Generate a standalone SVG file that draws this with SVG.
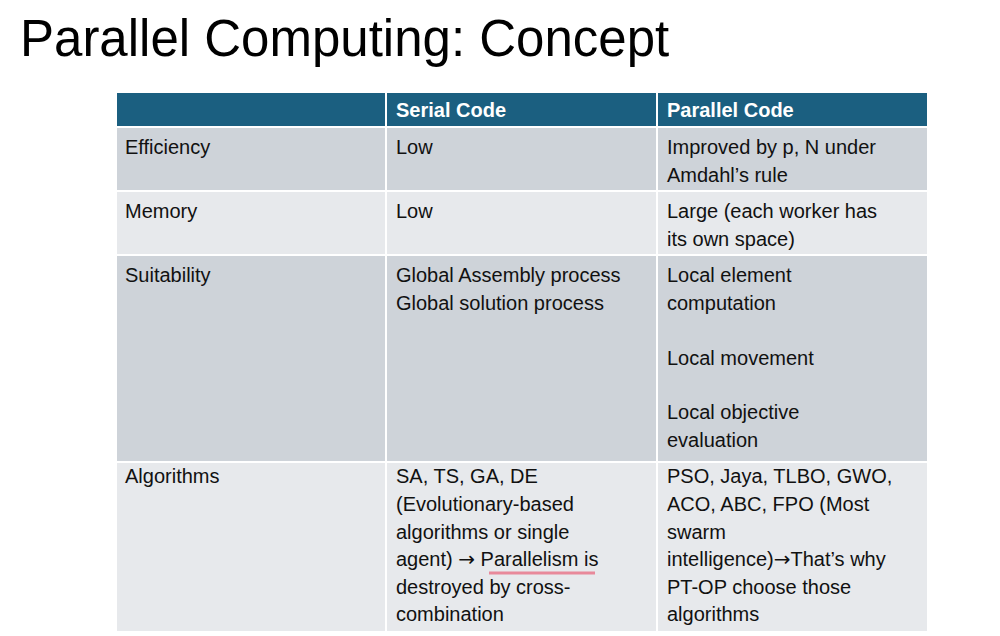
<svg xmlns="http://www.w3.org/2000/svg" width="1000" height="636" viewBox="0 0 1000 636">
<style>
text{font-family:"Liberation Sans",Arial,sans-serif;font-size:20px;fill:#111}
.h{fill:#fff;font-weight:bold}
.t{font-size:51px;fill:#000}
.a{font-family:"DejaVu Sans",sans-serif;font-size:20px}
.d{fill:#ced3d9}.l{fill:#e7e9ec}
</style>
<rect width="1000" height="636" fill="#fff"/>
<text class="t" x="20" y="56">Parallel Computing: Concept</text>
<g id="table" stroke="#fff" stroke-width="2">
<rect x="116" y="92" width="812" height="35" fill="#1b5f80"/>
<rect class="d" x="116" y="127" width="812" height="64"/>
<rect class="l" x="116" y="191" width="812" height="64"/>
<rect class="d" x="116" y="255" width="812" height="207"/>
<rect class="l" x="116" y="462" width="812" height="170"/>
<line x1="386" y1="92" x2="386" y2="632"/>
<line x1="657" y1="92" x2="657" y2="632"/>
</g>
<g id="header"><text class="h" x="396" y="117">Serial Code</text><text class="h" x="667" y="117">Parallel Code</text></g>
<g id="efficiency"><text x="125" y="154">Efficiency</text><text x="396" y="154">Low</text><text x="667" y="154">Improved by p, N under</text><text x="667" y="182">Amdahl’s rule</text></g>
<g id="memory"><text x="125" y="218">Memory</text><text x="396" y="218">Low</text><text x="667" y="218">Large (each worker has</text><text x="667" y="246">its own space)</text></g>
<g id="suitability"><text x="125" y="282">Suitability</text><text x="396" y="282">Global Assembly process</text><text x="396" y="310">Global solution process</text>
<text x="667" y="282">Local element</text><text x="667" y="310">computation</text><text x="667" y="365">Local movement</text><text x="667" y="419">Local objective</text><text x="667" y="447">evaluation</text></g>
<g id="algorithms"><text x="125" y="483">Algorithms</text>
<text x="396" y="483">SA, TS, GA, DE</text><text x="396" y="511">(Evolutionary-based</text><text x="396" y="539">algorithms or single</text><text x="396" y="566">agent) <tspan class="a">→</tspan> Parallelism is</text><text x="396" y="594">destroyed by cross-</text><text x="396" y="621">combination</text>
<line x1="489" y1="573" x2="595" y2="573" stroke="#e8899a" stroke-width="3"/>
<text x="667" y="483">PSO, Jaya, TLBO, GWO,</text><text x="667" y="511">ACO, ABC, FPO (Most</text><text x="667" y="539">swarm</text><text x="667" y="566">intelligence)<tspan class="a">→</tspan>That’s why</text><text x="667" y="594">PT-OP choose those</text><text x="667" y="621">algorithms</text></g>
</svg>
